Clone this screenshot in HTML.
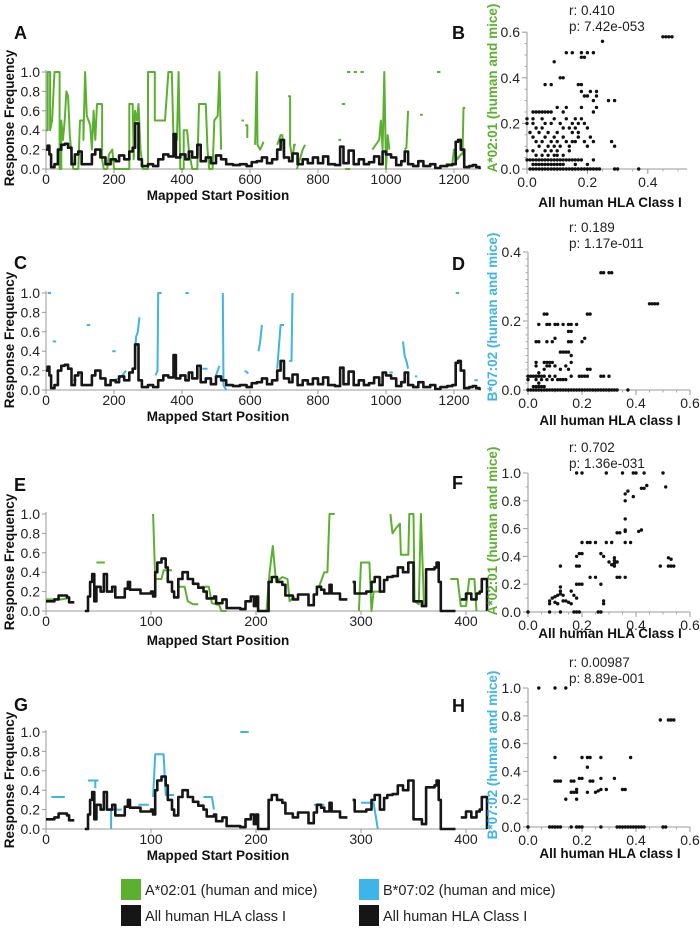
<!DOCTYPE html>
<html><head><meta charset="utf-8"><style>
html,body{margin:0;padding:0;background:#fff}
svg{display:block;font-family:"Liberation Sans",Arial,sans-serif}
</style></head><body>
<svg id="fig" width="700" height="928" viewBox="0 0 700 928" xmlns="http://www.w3.org/2000/svg"></svg>
<script>
// ---------- DATA ----------
const blackLongPos=[0,5,10,15,25,35,45,55,65,75,85,95,105,120,135,145,160,175,190,205,215,230,245,255,262,272,282,300,315,330,345,360,375,382,395,410,420,430,445,455,470,485,500,515,530,550,570,590,605,620,635,650,665,680,690,700,715,725,740,755,770,785,800,815,830,850,865,875,890,905,920,935,950,965,980,990,1000,1015,1030,1045,1055,1065,1080,1095,1110,1130,1145,1160,1180,1195,1205,1212,1220,1230,1245,1255,1265,1275];
const blackLongVal=[0.2,0.24,0.15,0.02,0.05,0.2,0.25,0.26,0.22,0.05,0.15,0.18,0.05,0.05,0.15,0.2,0.12,0.05,0.1,0.08,0.14,0.1,0.18,0.22,0.47,0.1,0.03,0.05,0.03,0.1,0.15,0.13,0.36,0.12,0.15,0.1,0.18,0.12,0.25,0.08,0.12,0.06,0.14,0.1,0.05,0.04,0.05,0.03,0.07,0.08,0.12,0.06,0.1,0.2,0.3,0.12,0.08,0.16,0.05,0.1,0.06,0.12,0.06,0.13,0.05,0.04,0.23,0.06,0.19,0.05,0.1,0.05,0.07,0.13,0.05,0.18,0.15,0.12,0.04,0.08,0.18,0.05,0.03,0.08,0.03,0.05,0.01,0.03,0.04,0.05,0.28,0.3,0.2,0.02,0.03,0.04,0.02,0];
const greenA=[[0,0.4],[5,0.4],[5,1],[12,1],[12,0.4],[18,0.5],[25,1],[40,1],[40,0],[45,0],[45,0.5],[50,0.3],[55,0.5],[60,0.8],[65,0.75],[70,0.35],[75,0.15],[80,0],[95,0],[100,0.5],[110,0.5],[110,0.3],[115,1],[120,0.55],[130,0.45],[135,0.2],[140,0.6],[145,0.3],[150,0.67],[165,0.67],[165,0.1],[170,0],[180,0],[185,0.15],[195,0.2],[200,0],[245,0],[245,0.67],[255,0.67],[258,0.1],[262,0.6],[268,0.5],[272,0.67],[278,0.2],[285,0],[300,0],[300,1],[320,1],[320,0.5],[350,0.5],[360,1],[370,1],[375,0.3],[385,0.3],[390,1],[395,0],[405,0],[405,0.4],[415,0.4],[420,0.2],[430,0],[445,0],[450,0.67],[470,0.67],[475,0.2],[480,0],[490,0],[495,0.5],[505,0.55],[510,1],[515,0.2],null,[575,0.5],[582,0.5],null,[586,0.45],[592,0.45],[592,0.32],null,[615,0.25],[620,1],[622,0.25],[630,0.2],[640,0.28],null,[680,0.25],[690,0.35],[695,0.35],[700,0.1],null,[712,0.75],[718,0.75],[718,0.25],[725,0.1],[730,0.25],[735,0.25],null,[738,0],[755,0.2],[762,0.25],null,[860,0.3],[868,0.3],null,[870,0.67],[880,0.67],null,[885,1],[895,1],null,[880,0],[895,0],null,[905,1],[915,1],null,[925,1],[935,1],null,[960,0.2],[970,0.25],[980,0.3],[985,0.5],[990,0.2],[995,1],[1000,0],[1005,0.35],[1010,0.2],null,[1055,0.2],[1060,0.22],[1065,0.6],null,[1100,0.56],[1108,0.56],null,[1150,1],[1160,1],null,[1175,0.05],[1195,0.05],[1200,0.2],[1210,0.1],[1220,0.15],[1225,0.15],[1228,0.63],[1233,0.63]];
const blueC=[[5,1],[15,1],null,[20,0.5],[30,0.5],null,[80,0.1],[90,0.1],null,[120,0.67],[130,0.67],null,[195,0.4],[205,0.4],null,[200,0.1],[215,0.12],[225,0.15],[235,0.2],null,[262,0.4],[265,0.55],[270,0.6],[275,0.75],null,[322,0.15],[328,0.2],[330,1],[340,1],null,[410,1],[420,1],null,[460,0.22],[475,0.22],null,[500,0.15],[510,0.25],null,[520,1],[522,0.05],[530,0],null,[585,0.2],[595,0.17],null,[625,0.4],[630,0.5],[635,0.67],null,[680,0.22],[690,0.67],[700,0.67],null,[715,0.3],[722,0.3],[725,1],null,[870,0.22],[877,0.22],null,[1010,0.18],[1020,0.18],null,[1050,0.5],[1055,0.35],[1060,0.3],[1065,0.22],null,[1085,0.14],[1092,0.14],null,[1205,1],[1215,1],null,[1260,0.1],[1270,0.1]];
const blackShortPos=[0,8,12,20,22,27,37,40,42,44,46,48,52,55,58,63,66,75,78,80,90,100,102,104,106,110,114,116,120,122,126,130,135,140,145,150,153,160,162,168,172,185,190,195,198,200,202,210,212,215,220,225,228,235,240,250,255,258,262,265,270,272,280,287,292,294,305,310,313,318,322,325,330,335,340,345,350,355,358,362,370,372,374,376,385,390,395,400,405,410,413,415,420];
const blackShortVal=[0.1,0.12,0.16,0.14,0.09,null,0,0.15,0.3,0.38,0.1,0.25,0.2,0.38,0.2,0.25,0.14,0.23,0.3,0.22,0.18,0.2,0.15,0.4,0.5,0.54,0.45,0.3,0.2,0.14,0.33,0.4,0.33,0.28,0.24,0.2,0.13,0.15,0.08,0.12,0.03,0.02,0.1,0.15,0.05,0.15,0,0,0.3,0.35,0.3,0.27,0.16,0.12,0.17,0.06,0.17,0.25,0.22,0.18,0.27,0.18,0.12,null,0.3,0.18,0.2,0.3,0.35,0.2,0.32,0.35,0.36,0.45,0.4,0.5,0.1,0.1,0.05,0.43,0.45,0.5,0.3,0,0,null,0.12,0.18,0.12,0.18,0.2,0.33,0,0];
const greenE=[[0,0.12],[15,0.12],[20,0.13],null,[48,0.5],[56,0.5],null,[102,1],[104,0.33],[110,0.33],[112,0.42],[120,0.42],null,[125,0.25],[132,0.25],[135,0.1],[140,0.07],[145,0.07],null,[148,0.25],[155,0.25],[158,0.08],[165,0.06],[167,0],[172,0],null,[210,0],[213,0.4],[216,0.67],[219,0.3],[225,0.35],[230,0.33],[232,0.1],[237,0.15],null,[260,0.25],[265,0.4],[268,0.4],[270,1],[275,1],null,[298,0],[300,0.5],[308,0.5],[310,0],[312,0.2],[318,0.2],null,[328,1],[330,0.8],[333,0.85],[337,0.9],[338,0.58],[345,0.58],[346,1],[350,1],[351,0.1],[355,0.07],[357,1],[360,0.05],null,[385,0.33],[392,0.33],[395,0.05],[400,0.05],[403,0.33],[408,0.33],[410,0]];
const blueG=[[5,0.33],[18,0.33],null,[40,0.5],[50,0.5],null,[47,0.5],[47,0.42],null,[62,0],[62,0.2],[72,0.2],null,[88,0.25],[98,0.25],null,[102,0.33],[104,0.77],[112,0.77],[114,0.35],[122,0.35],null,[150,0.33],[158,0.33],[160,0.2],null,[185,1],[193,1],null,[255,0.25],[265,0.25],null,[300,0.27],[312,0.27],[316,0]];
const bLevels=[0,0.02,0.04,0.06,0.08,0.1,0.12,0.14,0.16,0.18,0.2,0.22,0.25,0.27,0.3,0.32,0.34,0.37,0.4,0.47,0.49,0.51,0.56,0.58];
const bXs=[[0.01,0.02,0.03,0.04,0.05,0.06,0.07,0.08,0.09,0.1,0.11,0.12,0.13,0.14,0.15,0.16,0.17,0.18,0.19,0.2,0.21,0.22,0.23,0.24,0.29,0.3,0.37],[0.02,0.03,0.04,0.05,0.06,0.07,0.08,0.09,0.1,0.11,0.12,0.16,0.2],[0,0.01,0.02,0.03,0.04,0.05,0.06,0.07,0.08,0.09,0.1,0.11,0.12,0.13,0.14,0.15,0.16,0.17,0.18,0.22],[0.03,0.05,0.07,0.09,0.1,0.12],[0,0.02,0.06,0.08,0.1,0.14],[0.04,0.07,0.09,0.11,0.14,0.2,0.29],[0.03,0.05,0.08,0.1,0.13,0.15,0.16,0.19,0.22,0.28],[0.02,0.06,0.09,0.12,0.17,0.21],[0.01,0.04,0.07,0.1,0.15,0.17],[0.03,0.05,0.12,0.14,0.16,0.2],[0,0.02,0.06,0.08,0.11,0.15,0.17,0.19],[0,0.02,0.05,0.09,0.13,0.16,0.18],[0.02,0.03,0.04,0.05,0.06,0.07,0.08,0.12,0.22],[0.1,0.13,0.18,0.23],[0.22,0.27,0.29],[0.19,0.2,0.23],[0.18,0.21,0.23],[0.06,0.08,0.17,0.18],[0.11,0.12],[0.09],[0.18,0.19],[0.13,0.15,0.18,0.2,0.22],[0.25],[0.45,0.46,0.47,0.48]];
const dLevels=[0,0.01,0.02,0.03,0.04,0.05,0.06,0.07,0.08,0.1,0.11,0.14,0.15,0.17,0.19,0.22,0.25,0.34];
const dXs=[[0,0.01,0.02,0.03,0.04,0.05,0.06,0.07,0.08,0.09,0.1,0.11,0.12,0.13,0.14,0.15,0.16,0.17,0.18,0.19,0.2,0.21,0.22,0.23,0.24,0.25,0.26,0.27,0.28,0.29,0.3,0.31,0.32,0.33,0.37],[0.02,0.03,0.04,0.05,0.06],[0.04],[0,0.03,0.05,0.07,0.09,0.11,0.12,0.13,0.14],[0,0.01,0.02,0.03,0.04,0.05,0.06,0.08,0.1,0.16,0.19,0.2,0.21,0.22,0.27,0.28,0.3],[0.04],[0.06,0.12,0.15,0.22,0.23],[0.03,0.07,0.08,0.1,0.14],[0.03,0.06,0.07,0.08,0.09,0.16],[0.16],[0.12,0.13,0.14,0.15],[0.03,0.04,0.07,0.09,0.15,0.16,0.2],[0.1,0.21],[0.15,0.16],[0.04,0.07,0.08,0.1,0.11,0.13,0.15,0.16,0.18],[0.06,0.07,0.22,0.23],[0.45,0.46,0.47,0.48],[0.27,0.28,0.3,0.31]];
const fX=[0,0.08,0.12,0.17,0.18,0.19,0.26,0.27,0.08,0.08,0.09,0.1,0.1,0.11,0.11,0.12,0.12,0.12,0.13,0.13,0.14,0.15,0.16,0.16,0.17,0.18,0.12,0.18,0.19,0.2,0.18,0.19,0.18,0.19,0.2,0.2,0.22,0.23,0.25,0.23,0.25,0.27,0.28,0.28,0.27,0.28,0.29,0.31,0.3,0.31,0.32,0.32,0.32,0.32,0.33,0.33,0.34,0.36,0.33,0.34,0.36,0.38,0.36,0.36,0.36,0.36,0.36,0.37,0.39,0.41,0.42,0.42,0.43,0.44,0.18,0.2,0.29,0.35,0.39,0.4,0.43,0.5,0.51,0.49,0.52,0.53,0.52,0.53,0.54];
const fY=[0,0,0,0,0,0,0,0,0.06,0.08,0.1,0.07,0.11,0.12,0.06,0.13,0.15,0.18,0.12,0.08,0.08,0.07,0.15,0.06,0.12,0.1,0.33,0.2,0.2,0.2,0.33,0.33,0.4,0.42,0.42,0.5,0.5,0.5,0.5,0.25,0.25,0.2,0.08,0.06,0.42,0.4,0.5,0.5,0.36,0.34,0.33,0.35,0.37,0.39,0.36,0.25,0.25,0.25,0.57,0.57,0.5,0.5,0.58,0.59,0.67,0.8,0.85,0.87,0.83,0.58,0.59,0.89,0.89,0.91,1,1,1,1,1,1,1,1,0.9,0.33,0.39,0.38,0.33,0.33,0.33];
const hX=[0.04,0.1,0.14,0.49,0.52,0.53,0.54,0.1,0.2,0.22,0.23,0.27,0.38,0.22,0.1,0.11,0.12,0.16,0.17,0.23,0.24,0.27,0.32,0.19,0.2,0.16,0.17,0.18,0.18,0.22,0.25,0.26,0.27,0.29,0.35,0.36,0.14,0.18,0,0.08,0.09,0.1,0.11,0.12,0.16,0.18,0.19,0.2,0.27,0.33,0.34,0.35,0.36,0.37,0.38,0.39,0.4,0.41,0.42,0.43,0.5,0.51];
const hY=[1,1,1,0.77,0.77,0.77,0.77,0.5,0.5,0.5,0.5,0.5,0.5,0.43,0.33,0.33,0.33,0.33,0.33,0.33,0.33,0.35,0.35,0.35,0.35,0.25,0.25,0.25,0.27,0.25,0.25,0.26,0.27,0.27,0.27,0.27,0.2,0.2,0,0,0,0,0,0,0,0,0,0,0,0,0,0,0,0,0,0,0,0,0,0,0,0];
const lineTicksLong=[0,200,400,600,800,1000,1200];
const lineTicksShort=[0,100,200,300,400];
const yTicksLine=[0,0.2,0.4,0.6,0.8,1.0];
const GREEN='#5bb12f',BLUE='#3db4ea',BLACK='#161616';
// ---------- helpers ----------
const NS='http://www.w3.org/2000/svg';
const svg=document.getElementById('fig');
function mk(tag,attrs,parent){const e=document.createElementNS(NS,tag);for(const k in attrs)e.setAttribute(k,attrs[k]);(parent||svg).appendChild(e);return e;}
function txt(s,x,y,size,opts,parent){const t=mk('text',Object.assign({x:x,y:y,'font-size':size,fill:'#222'},opts||{}),parent);t.textContent=s;return t;}

function linePanel(cfg){
  const g=mk('g',{});
  
  
  const X=v=>cfg.x0+v*cfg.sx, Y=v=>cfg.y0-(cfg.y0-cfg.y1)*v;
  const ax=mk('path',{d:`M${cfg.x0} ${Y(1.02)}V${cfg.y0}H${X(cfg.xmax)}`,stroke:'#999',fill:'none','stroke-width':1},g);
  
  yTicksLine.forEach(v=>{mk('line',{x1:cfg.x0-4,x2:cfg.x0,y1:Y(v),y2:Y(v),stroke:'#999'},g);
    const t=txt(v.toFixed(1),cfg.x0-6,Y(v)+5,14,{'text-anchor':'end'},g);});
  cfg.xticks.forEach(v=>{mk('line',{x1:X(v),x2:X(v),y1:cfg.y0,y2:cfg.y0+4,stroke:'#999'},g);
    const t=txt(String(v),X(v),cfg.y0+15,14,{'text-anchor':'middle'},g);});
  let d='',pen=false;
  cfg.col.forEach(p=>{if(!p){pen=false;return;}d+=(pen?'L':'M')+X(p[0]).toFixed(1)+' '+Y(p[1]).toFixed(1);pen=true;});
  const cs=mk('path',{d:d,stroke:cfg.color,fill:'none','stroke-width':2,'stroke-linejoin':'round'},g);
  
  let bd='';pen=false;
  for(let i=0;i<cfg.bp.length;i++){const v=cfg.bv[i];if(v===null){pen=false;continue;}
    const xa=X(cfg.bp[i]),xb=X(i+1<cfg.bp.length?cfg.bp[i+1]:cfg.bp[i]);
    bd+=(pen?'L':'M')+xa.toFixed(1)+' '+Y(v).toFixed(1)+'L'+xb.toFixed(1)+' '+Y(v).toFixed(1);pen=true;}
  const bs=mk('path',{d:bd,stroke:BLACK,fill:'none','stroke-width':2.6,'stroke-linejoin':'round'},g);
  
  const yl=txt('Response Frequency',0,0,13.5,{'font-weight':'bold','text-anchor':'middle',fill:'#111',transform:`translate(14 ${cfg.ylc}) rotate(-90)`},g);
  
  const xl=txt('Mapped Start Position',cfg.tx,cfg.ty,13.5,{'font-weight':'bold','text-anchor':'middle',fill:'#111'},g);
  
  const L=txt(cfg.letter,14,cfg.ly,18,{'font-weight':'bold',fill:'#111'},g);
  
}
function scatterPanel(cfg){
  const g=mk('g',{});
  
  
  const X=v=>cfg.x0+v*cfg.sx, Y=v=>cfg.y0-v*cfg.sy;
  const ax=mk('path',{d:`M${cfg.x0} ${Y(cfg.ymax)}V${cfg.y0}H${X(cfg.xmax)}`,stroke:'#999',fill:'none'},g);
  
  cfg.yticks.forEach(v=>{mk('line',{x1:cfg.x0-5,x2:cfg.x0,y1:Y(v),y2:Y(v),stroke:'#999'},g);
    const t=txt(v.toFixed(1),cfg.x0-7,Y(v)+5,14,{'text-anchor':'end'},g);});
  for(let v=0;v<=cfg.ymax+1e-9;v+=cfg.minor)mk('line',{x1:cfg.x0-2.5,x2:cfg.x0,y1:Y(v),y2:Y(v),stroke:'#aaa'},g);
  for(let v=0;v<=cfg.xmax+1e-9;v+=0.05)mk('line',{x1:X(v),x2:X(v),y1:cfg.y0,y2:cfg.y0+2.5,stroke:'#aaa'},g);
  cfg.xticks.forEach(v=>{mk('line',{x1:X(v),x2:X(v),y1:cfg.y0,y2:cfg.y0+5,stroke:'#999'},g);
    const t=txt(v.toFixed(1),X(v),cfg.y0+18,14,{'text-anchor':'middle'},g);});
  cfg.xs.forEach((x,i)=>{const c=mk('circle',{cx:X(x).toFixed(1),cy:Y(cfg.ys[i]).toFixed(1),r:1.7,fill:'#111'},g);
    });
  const xl=txt(cfg.xtitle,cfg.tx,cfg.ty,13.5,{'font-weight':'bold','text-anchor':'middle',fill:'#111'},g);
  
  const yl=txt(cfg.ytitle,0,0,13.5,{'font-weight':'bold','text-anchor':'middle',fill:cfg.color,transform:`translate(497 ${cfg.ylc}) rotate(-90)`},g);
  
  const r=txt(cfg.r,569,cfg.ry,13.5,{},g);
  const p=txt(cfg.p,569,cfg.ry+16,13.5,{},g);
  const L=txt(cfg.letter,452,cfg.ly,18,{'font-weight':'bold',fill:'#111'},g);
  
}
function flat(levels,xs){const X=[],Y=[];levels.forEach((l,i)=>xs[i].forEach(x=>{X.push(x);Y.push(l);}));return [X,Y];}

// ---------- panels ----------
linePanel({name:'panel-a',letter:'A',ly:39,x0:46,sx:0.34,xmax:1280,y0:169,y1:72,xticks:lineTicksLong,col:greenA,color:GREEN,colName:'a0201-line',bp:blackLongPos,bv:blackLongVal,tx:218,ty:200,ylc:118});
linePanel({name:'panel-c',letter:'C',ly:269,x0:46,sx:0.34,xmax:1280,y0:390,y1:293,xticks:lineTicksLong,col:blueC,color:BLUE,colName:'b0702-line',bp:blackLongPos,bv:blackLongVal,tx:218,ty:421,ylc:340});
linePanel({name:'panel-e',letter:'E',ly:491,x0:46,sx:1.05,xmax:420,y0:611,y1:514,xticks:lineTicksShort,col:greenE,color:GREEN,colName:'a0201-line',bp:blackShortPos,bv:blackShortVal,tx:218,ty:645,ylc:562});
linePanel({name:'panel-g',letter:'G',ly:711,x0:46,sx:1.05,xmax:420,y0:829,y1:732,xticks:lineTicksShort,col:blueG,color:BLUE,colName:'b0702-line',bp:blackShortPos,bv:blackShortVal,tx:218,ty:860,ylc:780});

const B=flat(bLevels,bXs), D=flat(dLevels,dXs);
scatterPanel({name:'panel-b',letter:'B',ly:39,x0:527,sx:302,xmax:0.53,y0:169,sy:228,ymax:0.6,minor:0.05,yticks:[0,0.2,0.4,0.6],xticks:[0,0.2,0.4],xs:B[0],ys:B[1],xtitle:'All human HLA Class I',tx:610,ty:207,ytitle:'A*02:01 (human and mice)',color:GREEN,ylc:88,r:'r: 0.410',p:'p: 7.42e-053',ry:15});
scatterPanel({name:'panel-d',letter:'D',ly:270,x0:528,sx:270,xmax:0.6,y0:390,sy:345,ymax:0.4,minor:0.02,yticks:[0,0.2,0.4],xticks:[0,0.2,0.4,0.6],xs:D[0],ys:D[1],xtitle:'All human HLA class I',tx:610,ty:425,ytitle:'B*07:02 (human and mice)',color:BLUE,ylc:317,r:'r:  0.189',p:'p: 1.17e-011',ry:232});
scatterPanel({name:'panel-f',letter:'F',ly:489,x0:528,sx:270,xmax:0.6,y0:612,sy:139,ymax:1.0,minor:0.1,yticks:[0,0.2,0.4,0.6,0.8,1.0],xticks:[0,0.2,0.4,0.6],xs:fX,ys:fY,xtitle:'All human HLA Class I',tx:610,ty:638,ytitle:'A*02:01 (human and mice)',color:GREEN,ylc:531,r:'r:  0.702',p:'p:  1.36e-031',ry:452});
scatterPanel({name:'panel-h',letter:'H',ly:712,x0:528,sx:270,xmax:0.6,y0:827,sy:139,ymax:1.0,minor:0.1,yticks:[0,0.2,0.4,0.6,0.8,1.0],xticks:[0,0.2,0.4,0.6],xs:hX,ys:hY,xtitle:'All human HLA class I',tx:610,ty:858,ytitle:'B*07:02 (human and mice)',color:BLUE,ylc:755,r:'r:  0.00987',p:'p: 8.89e-001',ry:667});

// ---------- legend ----------
const leg=mk('g',{});


const items=[[121,879,GREEN,'A*02:01 (human and mice)'],[359,879,BLUE,'B*07:02 (human and mice)'],[121,905,BLACK,'All human HLA class I'],[359,905,BLACK,'All human HLA Class I']];
items.forEach(it=>{
  const e=mk('g',{},leg);
  
  
  mk('rect',{x:it[0],y:it[1],width:20,height:21,fill:it[2]},e);
  txt(it[3],it[0]+24,it[1]+16,14.5,{fill:'#222'},e);
});
</script>
</body></html>
